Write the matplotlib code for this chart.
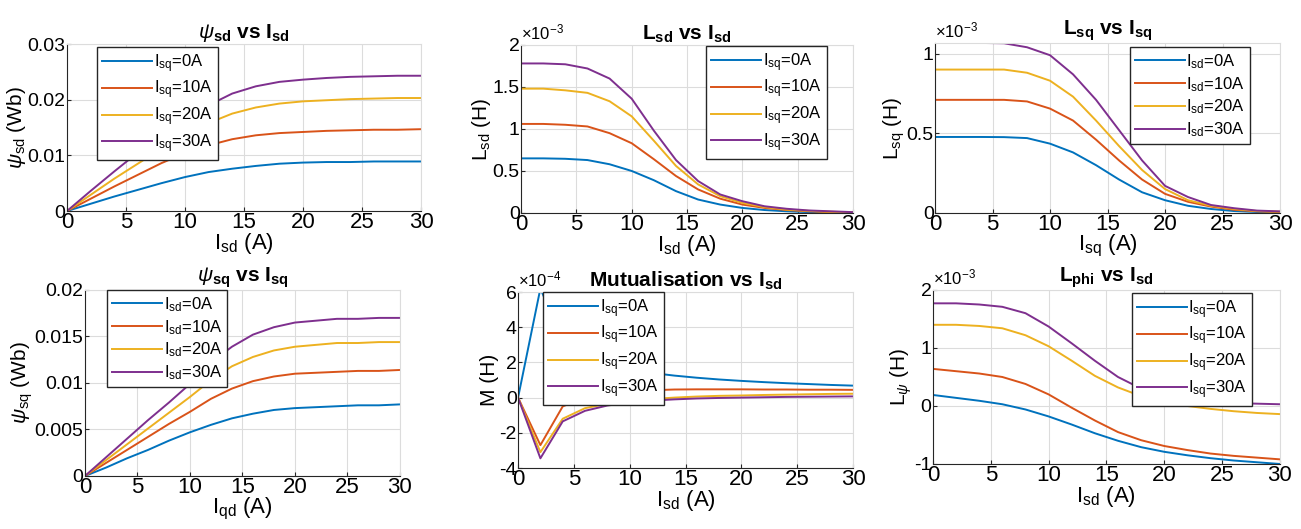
import numpy as np
import matplotlib
matplotlib.use('Agg')
import matplotlib.pyplot as plt
from matplotlib.ticker import FuncFormatter

plt.rcParams['font.family'] = ['Liberation Sans', 'DejaVu Sans']
plt.rcParams['mathtext.fontset'] = 'custom'
plt.rcParams['mathtext.rm'] = 'Liberation Sans'
plt.rcParams['mathtext.it'] = 'Liberation Sans:italic'
plt.rcParams['mathtext.bf'] = 'Liberation Sans:bold'
plt.rcParams['mathtext.default'] = 'regular'

# current steps (A)
i_s = [0, 2, 4, 6, 8, 10, 12, 14, 16, 18, 20, 22, 24, 26, 28, 30]

# psi_sd vs I_sd (Wb), one list per I_sq
psd_0 = [0, 0.0013, 0.0026, 0.0038, 0.0050, 0.0061, 0.0070, 0.0076, 0.0081, 0.0085, 0.0087, 0.0088, 0.0088, 0.0089, 0.0089, 0.0089]
psd_10 = [0, 0.0022, 0.0044, 0.0065, 0.0086, 0.0104, 0.0118, 0.0129, 0.0136, 0.0140, 0.0142, 0.0144, 0.0145, 0.0146, 0.0146, 0.0147]
psd_20 = [0, 0.0029, 0.0058, 0.0085, 0.0112, 0.0137, 0.0158, 0.0175, 0.0186, 0.0193, 0.0197, 0.0199, 0.0201, 0.0202, 0.0203, 0.0203]
psd_30 = [0, 0.0036, 0.0071, 0.0105, 0.0137, 0.0165, 0.0190, 0.0211, 0.0224, 0.0232, 0.0236, 0.0239, 0.0241, 0.0242, 0.0243, 0.0243]

# L_sd vs I_sd (x1e-3 H)
lsd_0 = [0.65, 0.65, 0.645, 0.63, 0.58, 0.50, 0.39, 0.26, 0.16, 0.10, 0.06, 0.035, 0.02, 0.01, 0.006, 0.004]
lsd_10 = [1.06, 1.06, 1.05, 1.03, 0.95, 0.83, 0.64, 0.44, 0.28, 0.17, 0.10, 0.06, 0.035, 0.02, 0.01, 0.006]
lsd_20 = [1.48, 1.48, 1.46, 1.43, 1.33, 1.15, 0.86, 0.56, 0.34, 0.20, 0.12, 0.07, 0.04, 0.025, 0.014, 0.008]
lsd_30 = [1.78, 1.78, 1.77, 1.72, 1.60, 1.36, 0.98, 0.63, 0.38, 0.22, 0.14, 0.08, 0.05, 0.03, 0.02, 0.01]

# L_sq vs I_sq (x1e-3 H), one list per I_sd
lsq_0 = [0.477, 0.477, 0.477, 0.476, 0.47, 0.435, 0.38, 0.30, 0.21, 0.13, 0.08, 0.045, 0.025, 0.012, 0.006, 0.004]
lsq_10 = [0.71, 0.71, 0.71, 0.71, 0.70, 0.655, 0.58, 0.46, 0.33, 0.21, 0.12, 0.07, 0.04, 0.02, 0.01, 0.006]
lsq_20 = [0.90, 0.90, 0.90, 0.90, 0.88, 0.83, 0.73, 0.58, 0.42, 0.27, 0.15, 0.08, 0.045, 0.025, 0.012, 0.008]
lsq_30 = [1.067, 1.067, 1.067, 1.065, 1.04, 0.99, 0.87, 0.71, 0.52, 0.33, 0.17, 0.10, 0.05, 0.03, 0.015, 0.01]

# psi_sq vs I_sq (Wb)
psq_0 = [0, 0.0009, 0.0019, 0.0028, 0.0038, 0.0047, 0.0055, 0.0062, 0.0067, 0.0071, 0.0073, 0.0074, 0.0075, 0.0076, 0.0076, 0.0077]
psq_10 = [0, 0.0014, 0.0028, 0.0042, 0.0056, 0.0069, 0.0083, 0.0094, 0.0102, 0.0107, 0.0110, 0.0111, 0.0112, 0.0113, 0.0113, 0.0114]
psq_20 = [0, 0.0017, 0.0034, 0.0051, 0.0068, 0.0085, 0.0103, 0.0118, 0.0128, 0.0135, 0.0139, 0.0141, 0.0143, 0.0143, 0.0144, 0.0144]
psq_30 = [0, 0.0020, 0.0040, 0.0060, 0.0079, 0.0099, 0.0122, 0.0139, 0.0152, 0.0160, 0.0165, 0.0167, 0.0169, 0.0169, 0.0170, 0.0170]

# mutual inductance vs I_sd (x1e-4 H)
m_0 = [0, 6.2, 3.2, 2.4, 1.9, 1.6, 1.4, 1.25, 1.13, 1.03, 0.95, 0.88, 0.82, 0.77, 0.72, 0.68]
m_10 = [0, -2.7, -0.5, 0.0, 0.25, 0.37, 0.42, 0.46, 0.47, 0.47, 0.47, 0.46, 0.46, 0.45, 0.45, 0.44]
m_20 = [0, -3.1, -1.2, -0.6, -0.35, -0.2, -0.08, 0.0, 0.06, 0.1, 0.12, 0.15, 0.17, 0.19, 0.21, 0.22]
m_30 = [0, -3.45, -1.35, -0.75, -0.45, -0.28, -0.17, -0.1, -0.05, -0.02, 0.0, 0.02, 0.04, 0.05, 0.06, 0.07]

# L_phi vs I_sd (x1e-3 H)
lphi_0 = [0.19, 0.14, 0.09, 0.03, -0.06, -0.18, -0.32, -0.47, -0.60, -0.71, -0.79, -0.85, -0.90, -0.94, -0.97, -1.0]
lphi_10 = [0.64, 0.60, 0.56, 0.50, 0.38, 0.20, -0.03, -0.25, -0.45, -0.59, -0.69, -0.76, -0.82, -0.86, -0.89, -0.92]
lphi_20 = [1.40, 1.40, 1.38, 1.34, 1.22, 1.03, 0.78, 0.52, 0.32, 0.17, 0.07, 0.0, -0.05, -0.09, -0.12, -0.14]
lphi_30 = [1.77, 1.77, 1.75, 1.71, 1.60, 1.37, 1.08, 0.78, 0.50, 0.30, 0.19, 0.12, 0.08, 0.05, 0.04, 0.03]

steps = ['0', '10', '20', '30']
colors = ['#0072BD', '#D95319', '#EDB120', '#7E2F8E']


def fmt(v, pos):
    return '%g' % round(v, 6)


def panel(rect, series, sub, title, xlab, ylab, ylim, yticks, loc, anchor, scale=None):
    ax = fig.add_axes(rect)
    for s, lab, c in zip(series, steps, colors):
        ax.plot(i_s, s, color=c, lw=1.4, label='I$_{%s}$=%sA' % (sub, lab))
    ax.set_xlim(0, 30)
    ax.set_ylim(*ylim)
    ax.set_xticks([0, 5, 10, 15, 20, 25, 30])
    ax.set_yticks(yticks)
    ax.yaxis.set_major_formatter(FuncFormatter(fmt))
    ax.grid(True, color='#dcdcdc', lw=0.8)
    ax.tick_params(direction='in', length=3, color='#262626')
    ax.tick_params(axis='x', labelsize=16, pad=1)
    ax.tick_params(axis='y', labelsize=14, pad=1)
    for sp in ['left', 'bottom']:
        ax.spines[sp].set_color('#262626')
    for sp in ['top', 'right']:
        ax.spines[sp].set_color('#dcdcdc')
    ax.set_title(title, fontsize=15, fontweight='bold', pad=2)
    ax.set_xlabel(xlab, fontsize=16, labelpad=-2)
    ax.set_ylabel(ylab, fontsize=15, labelpad=0)
    if scale:
        ax.text(0.0, 1.015, r'$\times10^{%s}$' % scale, transform=ax.transAxes,
                fontsize=12, ha='left', va='bottom')
    leg = ax.legend(loc=loc, bbox_to_anchor=anchor, fontsize=12, fancybox=False,
                    framealpha=1, edgecolor='#262626', handlelength=3,
                    labelspacing=0.25, borderpad=0.3, handletextpad=0.1,
                    borderaxespad=0)
    leg.get_frame().set_linewidth(1.0)
    return ax


fig = plt.figure(figsize=(13.01, 5.29), dpi=100)

panel([0.0515, 0.6011, 0.2721, 0.3157], [psd_0, psd_10, psd_20, psd_30], 'sq',
      r'$\mathit{\psi}_{sd}$ vs I$_{sd}$', 'I$_{sd}$ (A)', r'$\mathit{\psi}_{sd}$ (Wb)',
      (0, 0.03), [0, 0.01, 0.02, 0.03], 'upper left', (0.085, 0.982))
panel([0.4005, 0.5974, 0.2552, 0.3176], [lsd_0, lsd_10, lsd_20, lsd_30], 'sq',
      'L$_{sd}$ vs I$_{sd}$', 'I$_{sd}$ (A)', 'L$_{sd}$ (H)',
      (0, 2), [0, 0.5, 1, 1.5, 2], 'upper right', (0.92, 0.994), scale='-3')
panel([0.7187, 0.5974, 0.2652, 0.3214], [lsq_0, lsq_10, lsq_20, lsq_30], 'sd',
      'L$_{sq}$ vs I$_{sq}$', 'I$_{sq}$ (A)', 'L$_{sq}$ (H)',
      (0, 1.067), [0, 0.5, 1], 'upper right', (0.913, 0.976), scale='-3')
panel([0.0653, 0.1002, 0.2421, 0.3516], [psq_0, psq_10, psq_20, psq_30], 'sd',
      r'$\mathit{\psi}_{sq}$ vs I$_{sq}$', 'I$_{qd}$ (A)', r'$\mathit{\psi}_{sq}$ (Wb)',
      (0, 0.02), [0, 0.005, 0.01, 0.015, 0.02], 'upper left', (0.07, 1.0))
panel([0.3982, 0.1153, 0.2575, 0.3327], [m_0, m_10, m_20, m_30], 'sq',
      'Mutualisation vs I$_{sd}$', 'I$_{sd}$ (A)', 'M (H)',
      (-4, 6), [-4, -2, 0, 2, 4, 6], 'upper left', (0.075, 1.0), scale='-4')
panel([0.7171, 0.1229, 0.2667, 0.3289], [lphi_0, lphi_10, lphi_20, lphi_30], 'sq',
      'L$_{phi}$ vs I$_{sd}$', 'I$_{sd}$ (A)', r'L$_{\mathit{\psi}}$ (H)',
      (-1, 2), [-1, 0, 1, 2], 'upper right', (0.92, 0.983), scale='-3')

fig.savefig('out.png', dpi=100)
